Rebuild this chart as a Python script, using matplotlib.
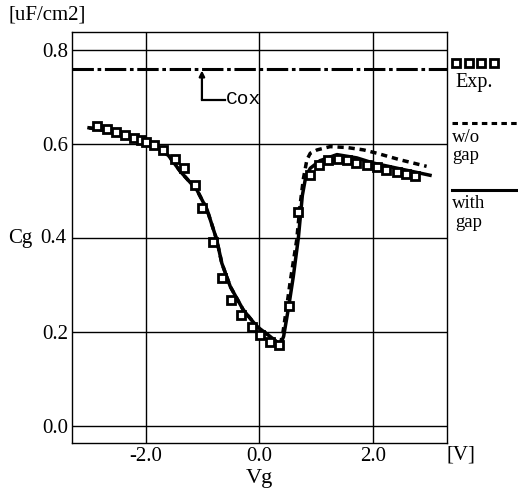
import matplotlib
matplotlib.use("Agg")
import matplotlib.pyplot as plt
from matplotlib.lines import Line2D

# ---- data ----
exp_v = [-2.86, -2.68, -2.52, -2.36, -2.21, -2.08, -2.00, -1.86, -1.69, -1.49, -1.32,
         -1.14, -1.00, -0.82, -0.66, -0.50, -0.32, -0.13, 0.02, 0.19, 0.35,
         0.52, 0.69, 0.90, 1.06, 1.22, 1.38, 1.55, 1.71, 1.90, 2.07, 2.24, 2.43, 2.59, 2.75]
exp_c = [0.637, 0.631, 0.626, 0.619, 0.612, 0.608, 0.604, 0.598, 0.586, 0.568, 0.548,
         0.512, 0.463, 0.391, 0.314, 0.268, 0.236, 0.211, 0.193, 0.179, 0.172,
         0.254, 0.455, 0.534, 0.555, 0.565, 0.568, 0.565, 0.560, 0.555, 0.550, 0.544, 0.540, 0.536, 0.532]

gap_v = [-3.00, -2.60, -2.20, -2.00, -1.80, -1.60, -1.39, -1.10, -0.92, -0.75, -0.66,
         -0.51, -0.28, -0.04, 0.19, 0.37, 0.43, 0.52, 0.60, 0.69, 0.76, 0.82, 0.90,
         1.07, 1.37, 1.72, 2.01, 2.43, 3.01]
gap_c = [0.634, 0.626, 0.614, 0.605, 0.593, 0.575, 0.541, 0.502, 0.460, 0.396, 0.346,
         0.296, 0.246, 0.211, 0.190, 0.172, 0.190, 0.254, 0.317, 0.400, 0.490, 0.530, 0.548,
         0.564, 0.577, 0.570, 0.559, 0.548, 0.533]

nogap_v = [-3.00, -2.60, -2.20, -2.00, -1.80, -1.60, -1.39, -1.10, -0.92, -0.75, -0.66,
           -0.51, -0.28, -0.04, 0.19, 0.37, 0.42, 0.48, 0.55, 0.66, 0.72, 0.78, 0.84,
           0.90, 1.02, 1.25, 1.55, 1.84, 2.07, 2.48, 2.95]
nogap_c = [0.634, 0.626, 0.614, 0.605, 0.593, 0.575, 0.541, 0.502, 0.460, 0.396, 0.346,
           0.296, 0.246, 0.211, 0.190, 0.172, 0.200, 0.250, 0.310, 0.395, 0.470, 0.527, 0.566,
           0.580, 0.587, 0.594, 0.592, 0.587, 0.580, 0.566, 0.552]

cox = 0.76
xticks = [-2.0, 0.0, 2.0]
xticklabels = ["-2.0", "0.0", "2.0"]
yticks = [0.0, 0.2, 0.4, 0.6, 0.8]
yticklabels = ["0.0", "0.2", "", "0.6", "0.8"]

serif = "Liberation Serif"
mono = "Liberation Mono"

fig = plt.figure(figsize=(5.18, 4.93), dpi=100)
ax = fig.add_axes([0.139, 0.1014, 0.724, 0.8337])
ax.set_xlim(-3.3, 3.31)
ax.set_ylim(-0.037, 0.838)

ax.set_xticks(xticks)
ax.set_xticklabels(xticklabels, fontfamily=serif, fontsize=15)
ax.set_yticks(yticks)
ax.set_yticklabels(yticklabels, fontfamily=serif, fontsize=15)
ax.tick_params(length=0, pad=3)
ax.grid(True, color="black", linewidth=1.0)
ax.set_axisbelow(True)
for s in ax.spines.values():
    s.set_linewidth(1.0)

# Cox line
ax.axhline(cox, color="black", linewidth=2.2, linestyle=(0, (7, 1.2, 1.2, 1.2)))
ax.annotate("", xy=(-1.01, cox - 0.004), xytext=(-1.01, 0.694),
            arrowprops=dict(arrowstyle="-|>", color="black", lw=1.6,
                            mutation_scale=8, shrinkA=0, shrinkB=0))
ax.plot([-1.01, -0.60], [0.694, 0.694], color="black", lw=1.6)
ax.text(-0.58, 0.694, "Cox", fontfamily=mono, fontsize=14, va="center", ha="left")

# curves
ax.plot(nogap_v, nogap_c, color="black", lw=2.5, linestyle=(0, (1.8, 1.4)))
ax.plot(gap_v, gap_c, color="black", lw=2.5)
ax.plot(exp_v, exp_c, linestyle="none", marker="s", markersize=5.6,
        markerfacecolor="white", markeredgecolor="black", markeredgewidth=2.0)

# labels
fig.text(8 / 518, 1 - 15 / 493, "[uF/cm2]", fontfamily=serif, fontsize=15, ha="left", va="center")
fig.text(8 / 518, 1 - 238 / 493, "Cg", fontfamily=serif, fontsize=15, ha="left", va="center")
fig.text(40 / 518, 1 - 238 / 493, "0.4", fontfamily=serif, fontsize=15, ha="left", va="center")
fig.text(447 / 518, 1 - 455 / 493, "[V]", fontfamily=serif, fontsize=15, ha="left", va="center")
fig.text(259 / 518, 1 - 478 / 493, "Vg", fontfamily=serif, fontsize=16, ha="center", va="center")

# legend (outside, right)
W, H = 518.0, 493.0
fig.add_artist(Line2D([x / W for x in [456, 468.5, 481, 493.5]], [1 - 62.7 / H] * 4,
                      linestyle="none", marker="s", markersize=5.6, markerfacecolor="white",
                      markeredgecolor="black", markeredgewidth=2.0, transform=fig.transFigure))
fig.text(455 / W, 1 - 82 / H, "Exp.", fontfamily=serif, fontsize=14.5, ha="left", va="center")
fig.add_artist(Line2D([452 / W, 518 / W], [1 - 123 / H] * 2, color="black", lw=2.2,
                      linestyle=(0, (1.8, 1.4)), transform=fig.transFigure))
fig.text(452 / W, 1 - 137 / H, "w/o", fontfamily=serif, fontsize=13.5, ha="left", va="center")
fig.text(452 / W, 1 - 156 / H, "gap", fontfamily=serif, fontsize=13.5, ha="left", va="center")
fig.add_artist(Line2D([452 / W, 518 / W], [1 - 190 / H] * 2, color="black", lw=2.2,
                      transform=fig.transFigure))
fig.text(452 / W, 1 - 203 / H, "with", fontfamily=serif, fontsize=13.5, ha="left", va="center")
fig.text(455 / W, 1 - 222 / H, "gap", fontfamily=serif, fontsize=13.5, ha="left", va="center")

fig.savefig("out.png", dpi=100)
